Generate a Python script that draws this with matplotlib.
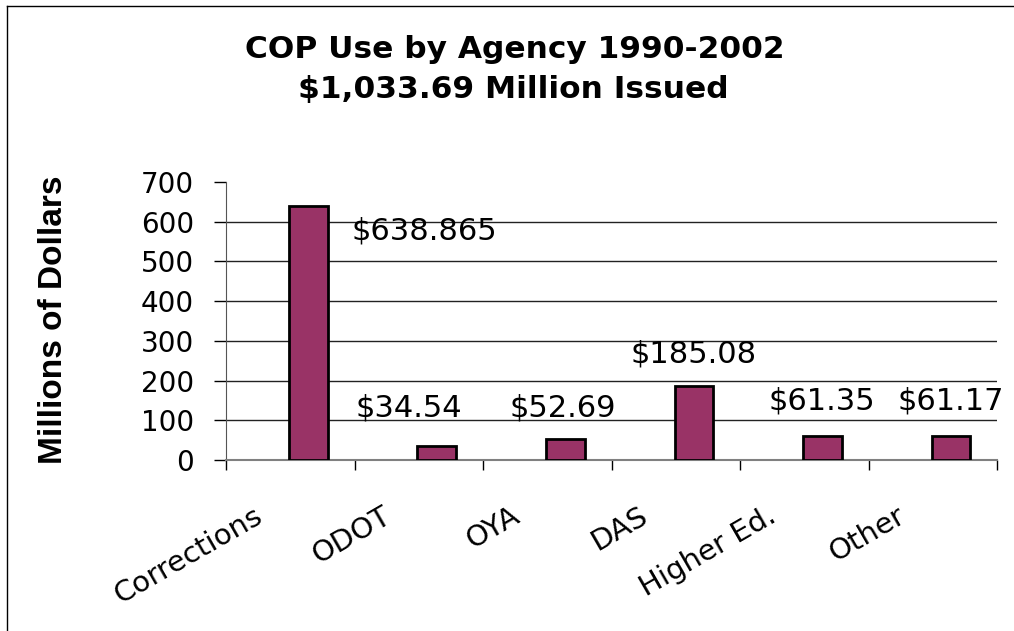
import matplotlib.pyplot as plt
import matplotlib.transforms as mtransforms
from matplotlib.lines import Line2D
import numpy as np

plt.rcParams['font.family'] = ['DejaVu Sans']

agencies = ["Corrections", "ODOT", "OYA", "DAS", "Higher Ed.", "Other"]
amounts = [638.865, 34.54, 52.69, 185.08, 61.35, 61.17]
value_labels = ["$638.865", "$34.54", "$52.69", "$185.08", "$61.35", "$61.17"]
y_ticks = [0, 100, 200, 300, 400, 500, 600, 700]
title_lines = ["COP Use by Agency 1990-2002", "$1,033.69 Million Issued"]

# where each value label sits (category units, millions)
label_x = [1.04, 0.92, 2.12, 3.14, 4.14, 5.14]
label_y = [577, 130, 130, 267, 148, 148]

fig = plt.figure(figsize=(10.14, 6.31), dpi=100)
# frame: only the top and left edges show
fig.add_artist(Line2D([0.0069, 0.0069], [0, 0.9905], transform=fig.transFigure,
                      color="black", linewidth=1))
fig.add_artist(Line2D([0.0069, 1], [0.9905, 0.9905], transform=fig.transFigure,
                      color="black", linewidth=1))

ax = fig.add_axes([0.2229, 0.271, 0.7604, 0.4406])

x = np.arange(len(agencies))
ax.bar(x + 0.14, amounts, width=0.3, color="#993366", edgecolor="black", linewidth=2, zorder=3)

for lx, ly, txt in zip(label_x, label_y, value_labels):
    ax.text(lx, ly, txt, ha="center", va="center", fontsize=22, zorder=4)

ax.set_xlim(-0.5, len(agencies) - 0.5)
ax.set_ylim(0, 700)
ax.set_yticks(y_ticks)
ax.set_yticklabels([str(v) for v in y_ticks], fontsize=20)
for v in y_ticks[1:-1]:
    ax.axhline(v, color="#222222", linewidth=1, zorder=1)

# category names drawn as text so they can sit down-left of the category centre
ax.set_xticks(np.arange(len(agencies) + 1) - 0.5)
ax.set_xticklabels([])
ax.tick_params(axis="x", length=7, width=1, color="black", direction="out")
ax.tick_params(axis="y", length=9, width=1, color="black", direction="out", pad=14)
shift = mtransforms.ScaledTranslation(-0.37, -0.42, fig.dpi_scale_trans)
for i, name in enumerate(agencies):
    ax.text(i, 0, name, transform=ax.get_xaxis_transform() + shift, fontsize=21,
            rotation=30, ha="right", va="top", rotation_mode="anchor")

fig.text(54 / 1014, 0.4937, "Millions of Dollars", rotation=90, ha="center", va="center",
         fontsize=24, fontweight="bold", family="Liberation Sans")

for side in ["top", "right"]:
    ax.spines[side].set_visible(False)
ax.spines["left"].set_color("#555555")
ax.spines["bottom"].set_color("#808080")
ax.spines["bottom"].set_linewidth(1.5)

fig.text(0.508, 0.908, title_lines[0], ha="center", va="baseline",
         fontsize=22.5, fontweight="bold")
fig.text(0.506, 0.8447, title_lines[1], ha="center", va="baseline",
         fontsize=22.5, fontweight="bold")

fig.savefig("out.png", dpi=100)
